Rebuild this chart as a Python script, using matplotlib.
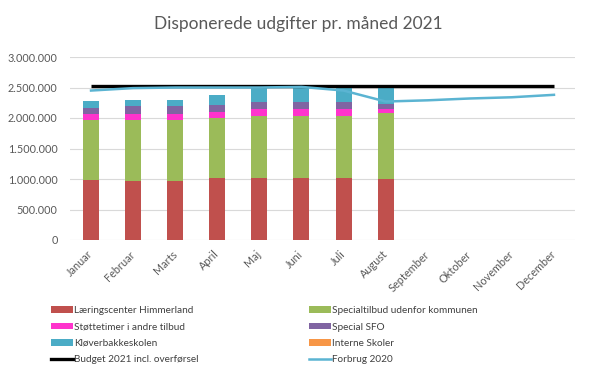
import matplotlib
matplotlib.use("Agg")
import matplotlib.pyplot as plt
from matplotlib.patches import Patch
from matplotlib.lines import Line2D
import numpy as np

plt.rcParams['font.family'] = ['Lato', 'DejaVu Sans']

months = ["Januar", "Februar", "Marts", "April", "Maj", "Juni", "Juli", "August",
          "September", "Oktober", "November", "December"]

laeringscenter = [985000, 975000, 970000, 1010000, 1010000, 1010000, 1010000, 995000]
specialtilbud = [985000, 995000, 1000000, 990000, 1030000, 1030000, 1030000, 1085000]
stoettetimer = [90000, 100000, 100000, 100000, 110000, 100000, 110000, 70000]
special_sfo = [110000, 130000, 125000, 110000, 110000, 120000, 110000, 80000]
kloeverbakke = [110000, 90000, 95000, 170000, 230000, 240000, 230000, 260000]
interne = [0, 0, 0, 0, 0, 0, 0, 0]

budget = [2520000] * 12
forbrug_2020 = [2450000, 2490000, 2500000, 2500000, 2500000, 2510000, 2450000, 2270000,
                2290000, 2320000, 2340000, 2380000]

yticks = [0, 500000, 1000000, 1500000, 2000000, 2500000, 3000000]
ytick_labels = ["0", "500.000", "1.000.000", "1.500.000", "2.000.000", "2.500.000", "3.000.000"]

series = [
    ("Læringscenter Himmerland", laeringscenter, "#C0504D"),
    ("Specialtilbud udenfor kommunen", specialtilbud, "#9BBB59"),
    ("Støttetimer i andre tilbud", stoettetimer, "#FF33CC"),
    ("Special SFO", special_sfo, "#8064A2"),
    ("Kløverbakkeskolen", kloeverbakke, "#4BACC6"),
    ("Interne Skoler", interne, "#F79646"),
]

fig = plt.figure(figsize=(5.91, 3.71), dpi=100)
ax = fig.add_axes([70/591, 131/371, 505/591, 183/371])

x = np.arange(len(months))
nb = len(laeringscenter)
bottom = np.zeros(nb)
for name, vals, col in series:
    ax.bar(x[:nb], vals, 0.38, bottom=bottom, color=col, zorder=2)
    bottom += np.array(vals)

ax.plot(x, budget, color="black", lw=2.4, zorder=3, solid_capstyle='butt')
ax.plot(x, forbrug_2020, color="#5BB4D2", lw=1.8, zorder=4)

ax.set_xlim(-0.5, 11.5)
ax.set_ylim(0, 3000000)
ax.set_yticks(yticks)
ax.set_yticklabels(ytick_labels)
ax.set_xticks(x)
ax.set_xticklabels(months, rotation=45, ha='right', va='center', rotation_mode='anchor')
ax.tick_params(axis='both', length=0, labelsize=7.8, colors="#595959")
ax.tick_params(axis='y', pad=9)
ax.tick_params(axis='x', pad=9)
ax.grid(axis='y', color="#D9D9D9", lw=0.8, zorder=0)
for s in ax.spines.values():
    s.set_visible(False)

fig.text(298/591, 1 - 24/371, "Disponerede udgifter pr. måned 2021", ha='center', va='center',
         fontsize=12.5, color="#595959")

def patch(c):
    return Patch(facecolor=c, edgecolor='none')

left_handles = [patch("#C0504D"), patch("#FF33CC"), patch("#4BACC6"),
                Line2D([0], [0], color="black", lw=2.4)]
left_labels = ["Læringscenter Himmerland", "Støttetimer i andre tilbud", "Kløverbakkeskolen",
               "Budget 2021 incl. overførsel"]
right_handles = [patch("#9BBB59"), patch("#8064A2"), patch("#F79646"),
                 Line2D([0], [0], color="#5BB4D2", lw=1.8)]
right_labels = ["Specialtilbud udenfor kommunen", "Special SFO", "Interne Skoler", "Forbrug 2020"]

common = dict(frameon=False, fontsize=7.2, handlelength=2.2, handleheight=0.6,
              handletextpad=0.1, labelspacing=0.75, borderpad=0, borderaxespad=0,
              loc='upper left', labelcolor="#404040")
fig.legend(left_handles, left_labels, bbox_to_anchor=(51/591, 1 - 306/371), **common)
fig.legend(right_handles, right_labels, bbox_to_anchor=(309/591, 1 - 306/371), **common)

fig.savefig("out.png", dpi=100)
